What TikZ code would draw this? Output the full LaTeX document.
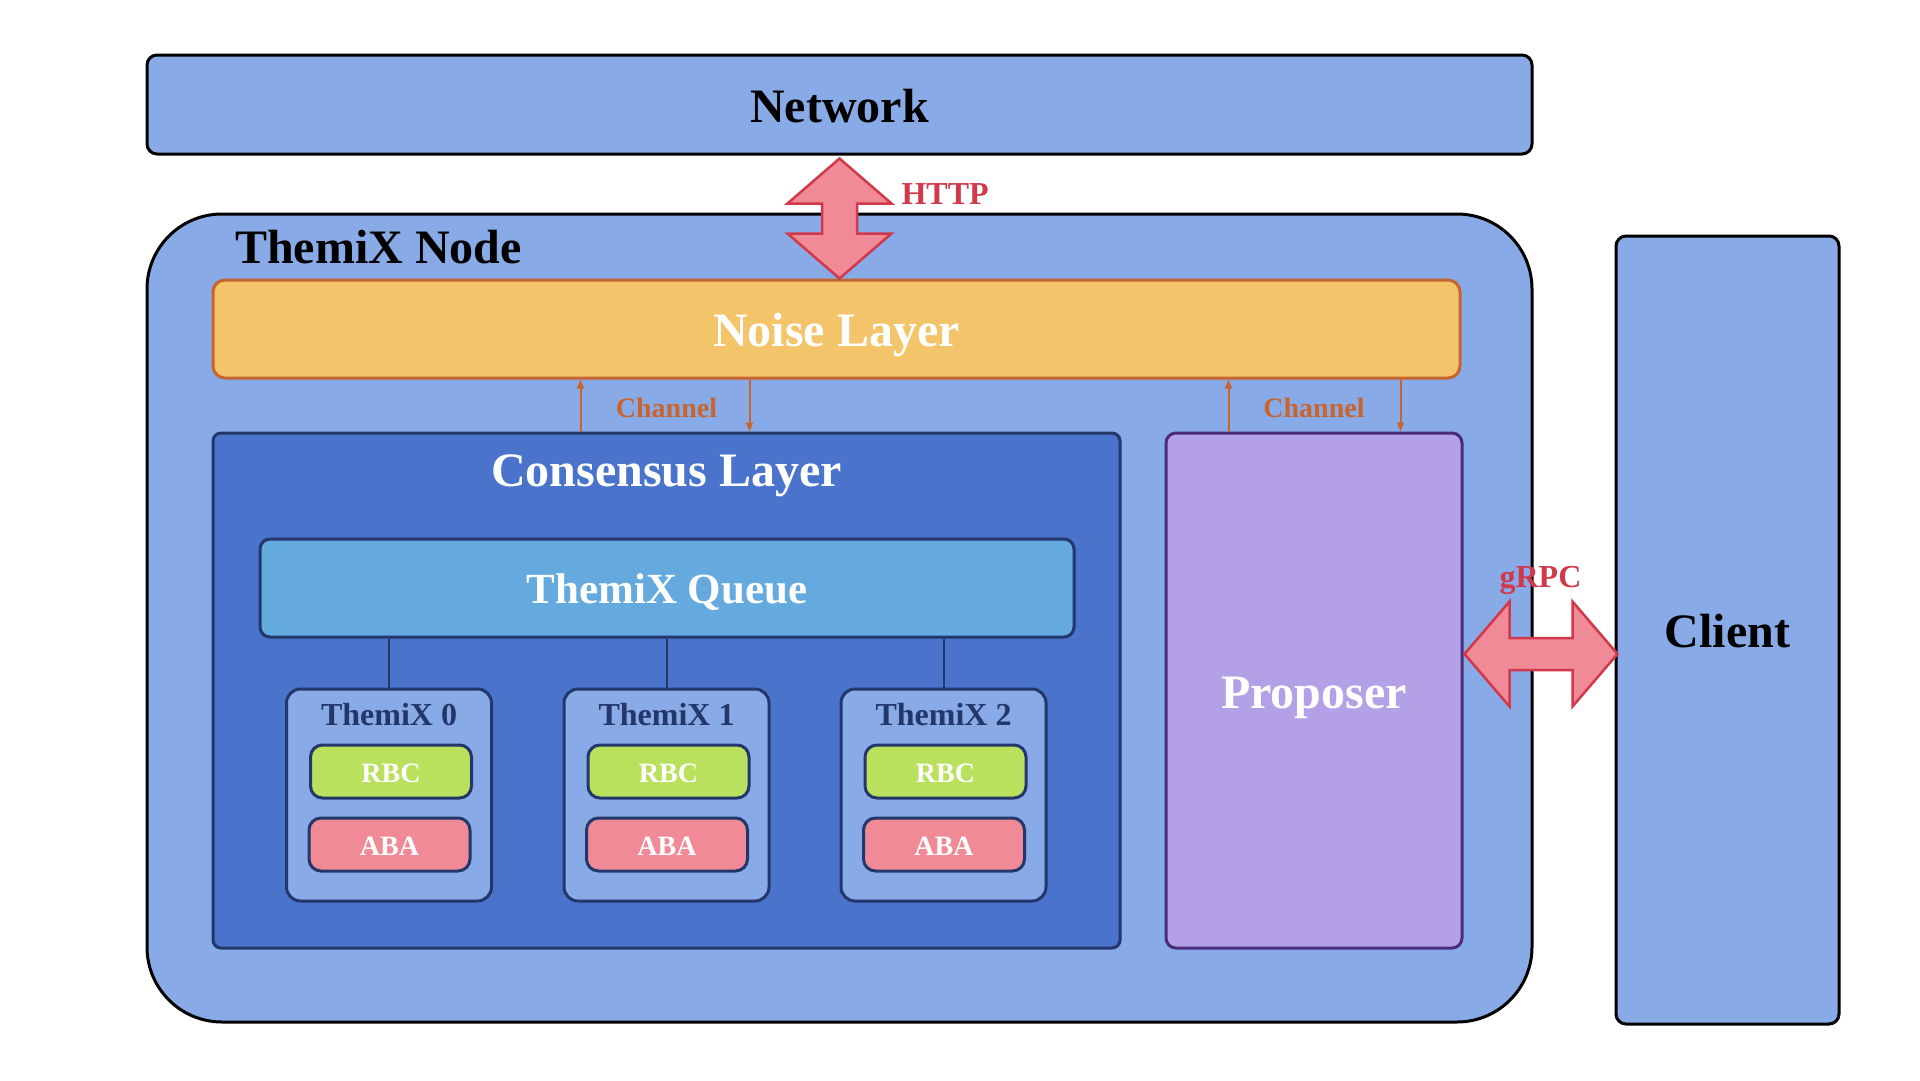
\documentclass[tikz,border=0pt]{standalone}
\usepackage{fontspec}
\setmainfont{Liberation Serif}
\usetikzlibrary{arrows.meta}
\definecolor{paleblue}{HTML}{88AAE6}
\definecolor{deepblue}{HTML}{4A73CC}
\definecolor{queueblue}{HTML}{64AADF}
\definecolor{navy}{HTML}{23376B}
\definecolor{noisefill}{HTML}{F3C46A}
\definecolor{noiseline}{HTML}{C8642D}
\definecolor{rbcgreen}{HTML}{B9E15E}
\definecolor{abapink}{HTML}{F08A96}
\definecolor{propfill}{HTML}{B4A0E6}
\definecolor{propline}{HTML}{4A2D7A}
\definecolor{alertred}{HTML}{D1394B}
\newcommand{\bigfont}[1]{\fontsize{#1}{#1}\selectfont\bfseries}
\begin{document}
\begin{tikzpicture}[x=1pt, y=-1pt, line width=3pt,
  box/.style={draw, rounded corners=10pt, inner sep=0pt, text height=35pt, text depth=0pt, font=\bigfont{48}},
  part/.style={box, fill=paleblue, draw=navy, rounded corners=14pt,
    minimum width=205pt, minimum height=212pt},
  algo/.style={box, draw=navy, text=white, rounded corners=12pt, text height=22pt,
    minimum width=161pt, minimum height=53pt, font=\bigfont{28}},
  chan/.style={draw=noiseline, line width=2pt, -{Triangle[length=9pt,width=7pt]}},
  chanlabel/.style={text=noiseline, font=\bigfont{28}},
  fat/.style={fill=abapink, draw=alertred, line width=2.5pt, line join=miter}]
\useasboundingbox (0,0) rectangle (1920,1080);
\node[box, fill=paleblue, minimum width=1385pt, minimum height=99pt] (network) at (839.5,104.5) {Network};
\node[box, fill=paleblue, rounded corners=75pt, minimum width=1385pt, minimum height=808pt] (themix) at (839.5,618) {};
\node[inner sep=0pt, anchor=west, font=\bigfont{48}] (themixlabel) at ([xshift=88pt,yshift=-35pt]themix.north west) {ThemiX Node};
\node[box, fill=noisefill, draw=noiseline, text=white, rounded corners=12pt, minimum width=1247pt, minimum height=98pt] (noise) at (836.5,329) {Noise Layer};
\node[box, fill=deepblue, draw=navy, rounded corners=8pt, minimum width=907pt, minimum height=515pt] (consensus) at (666.5,690.5) {};
\node[text=white, text height=35pt, text depth=0pt, font=\bigfont{48}] (consensuslabel) at ([yshift=-37pt]consensus.north) {Consensus Layer};
\node[box, fill=queueblue, draw=navy, text=white, text height=30pt, minimum width=814pt, minimum height=98pt, font=\bigfont{43}] (queue) at (667,588) {ThemiX Queue};
\node[box, fill=propfill, draw=propline, text=white, minimum width=296pt, minimum height=515pt] (proposer) at (1314,690.5) {Proposer};
\node[box, fill=paleblue, minimum width=223pt, minimum height=788pt] (client) at (1727.5,630) {Client};
% themix instances
\node[part] (t0) at (389,795) {};
\node[text=navy, font=\bigfont{32}] (t0label) at ([yshift=-27.5pt]t0.north) {ThemiX 0};
\node[algo, fill=rbcgreen] (rbc0) at ([xshift=2pt,yshift=23.5pt]t0.center) {RBC};
\node[algo, fill=abapink] (aba0) at ([xshift=0.5pt,yshift=-49.5pt]t0.center) {ABA};
\node[part] (t1) at (666.5,795) {};
\node[text=navy, font=\bigfont{32}] (t1label) at ([yshift=-27.5pt]t1.north) {ThemiX 1};
\node[algo, fill=rbcgreen] (rbc1) at ([xshift=2pt,yshift=23.5pt]t1.center) {RBC};
\node[algo, fill=abapink] (aba1) at ([xshift=0.5pt,yshift=-49.5pt]t1.center) {ABA};
\node[part] (t2) at (943.5,795) {};
\node[text=navy, font=\bigfont{32}] (t2label) at ([yshift=-27.5pt]t2.north) {ThemiX 2};
\node[algo, fill=rbcgreen] (rbc2) at ([xshift=2pt,yshift=23.5pt]t2.center) {RBC};
\node[algo, fill=abapink] (aba2) at ([xshift=0.5pt,yshift=-49.5pt]t2.center) {ABA};
\draw[navy, line width=2pt] (queue.south -| t0.north) -- (t0.north);
\draw[navy, line width=2pt] (queue.south -| t1.north) -- (t1.north);
\draw[navy, line width=2pt] (queue.south -| t2.north) -- (t2.north);
% channels
\draw[chan] ([xshift=369pt]consensus.north west) -- ([xshift=369pt]consensus.north west |- noise.south);
\draw[chan] ([xshift=538pt]consensus.north west |- noise.south) -- ([xshift=538pt]consensus.north west);
\node[chanlabel] (chan1) at ([yshift=24pt]consensus.north) {Channel};
\draw[chan] ([xshift=64pt]proposer.north west) -- ([xshift=64pt]proposer.north west |- noise.south);
\draw[chan] ([xshift=236pt]proposer.north west |- noise.south) -- ([xshift=236pt]proposer.north west);
\node[chanlabel] (chan2) at ([yshift=24pt]proposer.north) {Channel};
% http
\draw[fat] ([yshift=-3pt]network.south) -- ++(52,45) -- ++(-34.5,0) -- ++(0,30) -- ++(34.5,0)
  -- ++(-52,45) -- ++(-52,-45) -- ++(34.5,0) -- ++(0,-30) -- ++(-34.5,0) -- cycle;
\node[inner sep=0pt, anchor=west, text=alertred, font=\bigfont{32}] (http) at ([xshift=60.5pt,yshift=-39pt]network.south) {HTTP};
% grpc
\coordinate (grpc) at ([xshift=1pt,yshift=36.5pt]proposer.east);
\draw[fat] (grpc) -- ++(45,-52.5) -- ++(0,36.5) -- ++(63,0) -- ++(0,-36.5) -- ++(45,52.5)
  -- ++(-45,52.5) -- ++(0,-36.5) -- ++(-63,0) -- ++(0,36.5) -- cycle;
\node[text=alertred, font=\bigfont{32}] (grpclabel) at ([xshift=76pt,yshift=73.5pt]grpc) {gRPC};
\end{tikzpicture}
\end{document}
